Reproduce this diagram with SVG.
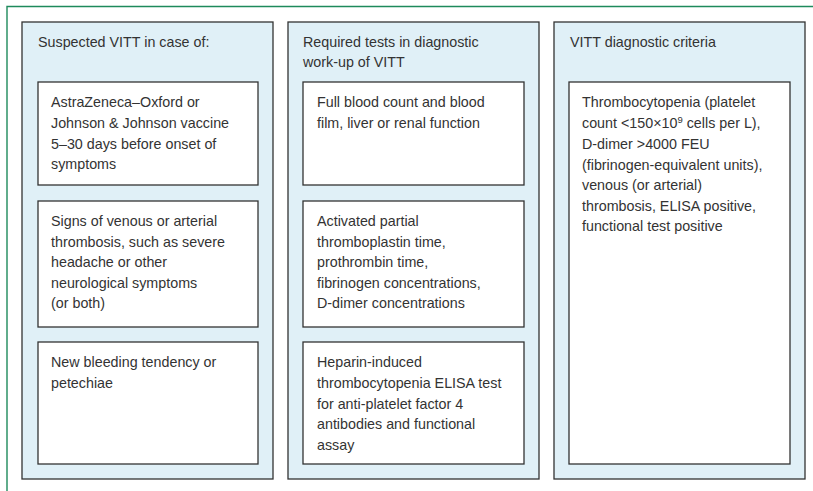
<svg xmlns="http://www.w3.org/2000/svg" width="813" height="491" viewBox="0 0 813 491">
<style>
.frame{fill:none;stroke:#1e8a5c;stroke-width:1.4}
.panel{fill:#e0f0f7;stroke:#333;stroke-width:1.3}
.box{fill:#fff;stroke:#333;stroke-width:1.3}
text{font-family:"Liberation Sans",Arial,sans-serif;font-size:14.3px;fill:#333}
.sup{font-size:9.5px}
</style>
<rect width="813" height="491" fill="#fff"/>
<path class="frame" d="M7 491 V6.5 H813"/>
<g id="panel1">
<rect class="panel" x="22" y="22" width="251" height="457"/>
<text x="38" y="47">Suspected VITT in case of:</text>
</g>
<g id="p1box1">
<rect class="box" x="38" y="82" width="220" height="103"/>
<text x="51" y="106.5">AstraZeneca–Oxford or</text>
<text x="51" y="127.5">Johnson &amp; Johnson vaccine</text>
<text x="51" y="148.5">5–30 days before onset of</text>
<text x="51" y="168.5">symptoms</text>
</g>
<g id="p1box2">
<rect class="box" x="38" y="201" width="220" height="126"/>
<text x="51" y="226">Signs of venous or arterial</text>
<text x="51" y="246.5">thrombosis, such as severe</text>
<text x="51" y="267">headache or other</text>
<text x="51" y="287.5">neurological symptoms</text>
<text x="51" y="308">(or both)</text>
</g>
<g id="p1box3">
<rect class="box" x="38" y="342" width="220" height="122"/>
<text x="51" y="367">New bleeding tendency or</text>
<text x="51" y="388">petechiae</text>
</g>
<g id="panel2">
<rect class="panel" x="288" y="22" width="251" height="457"/>
<text x="303" y="46.5">Required tests in diagnostic</text>
<text x="303" y="66.5">work-up of VITT</text>
</g>
<g id="p2box1">
<rect class="box" x="303" y="82" width="221" height="103"/>
<text x="317" y="106.5">Full blood count and blood</text>
<text x="317" y="127.5">film, liver or renal function</text>
</g>
<g id="p2box2">
<rect class="box" x="303" y="201" width="221" height="126"/>
<text x="317" y="226">Activated partial</text>
<text x="317" y="246.5">thromboplastin time,</text>
<text x="317" y="267">prothrombin time,</text>
<text x="317" y="287.5">fibrinogen concentrations,</text>
<text x="317" y="308">D-dimer concentrations</text>
</g>
<g id="p2box3">
<rect class="box" x="303" y="342" width="221" height="122"/>
<text x="317" y="367">Heparin-induced</text>
<text x="317" y="388">thrombocytopenia ELISA test</text>
<text x="317" y="408.5">for anti-platelet factor 4</text>
<text x="317" y="429">antibodies and functional</text>
<text x="317" y="449.5">assay</text>
</g>
<g id="panel3">
<rect class="panel" x="554" y="22" width="251" height="457"/>
<text x="570" y="47">VITT diagnostic criteria</text>
</g>
<g id="p3box1">
<rect class="box" x="569" y="82" width="221" height="382"/>
<text x="582" y="106.5">Thrombocytopenia (platelet</text>
<text x="582" y="127.5">count &lt;150×10<tspan class="sup" dy="-5">9</tspan><tspan dy="5"> cells per L),</tspan></text>
<text x="582" y="148.5">D-dimer &gt;4000 FEU</text>
<text x="582" y="169.5">(fibrinogen-equivalent units),</text>
<text x="582" y="190">venous (or arterial)</text>
<text x="582" y="210.5">thrombosis, ELISA positive,</text>
<text x="582" y="231">functional test positive</text>
</g>
<g id="connectors"></g>
</svg>
